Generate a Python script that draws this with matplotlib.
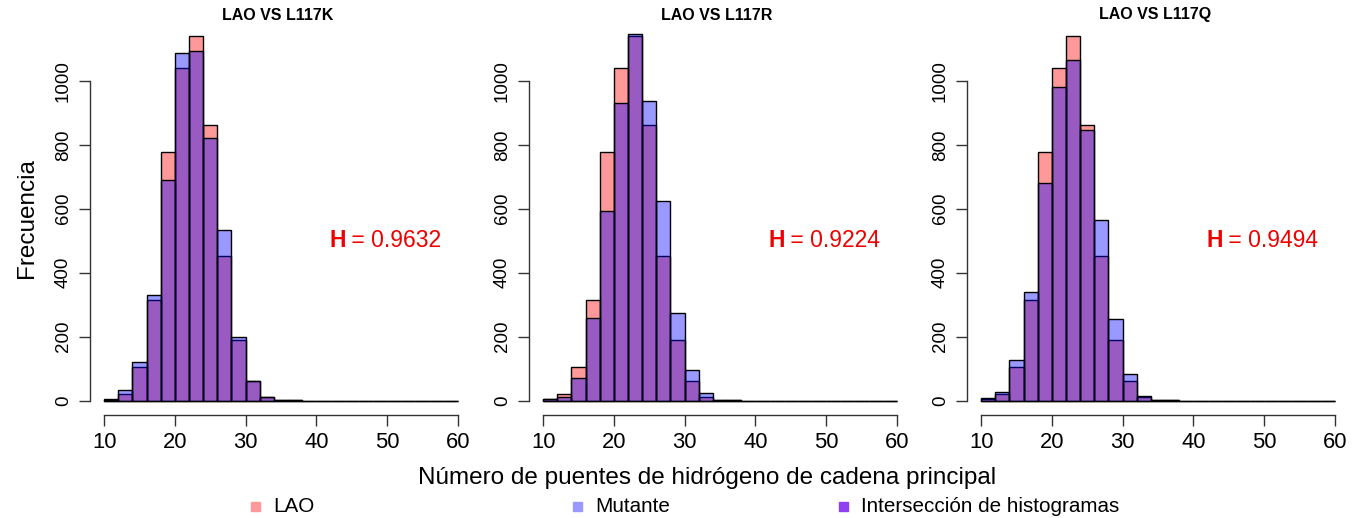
import numpy as np
import matplotlib
matplotlib.use("Agg")
import matplotlib.pyplot as plt

plt.rcParams['font.family'] = ['Liberation Sans', 'DejaVu Sans']

# Bin edges: 10 to 60 step 2 (25 bins)
bin_edges = list(range(10, 62, 2))

# Counts per bin (10-12, 12-14, ..., 58-60)
lao = [4, 20, 105, 316, 778, 1040, 1141, 863, 453, 190, 60, 10, 3, 1,
       0, 0, 0, 0, 0, 0, 0, 0, 0, 0, 0]
mut_l117k = [3, 33, 121, 330, 689, 1087, 1093, 821, 534, 200, 62, 11, 3, 1,
             0, 0, 0, 0, 0, 0, 0, 0, 0, 0, 0]
mut_l117r = [4, 12, 71, 259, 594, 932, 1147, 937, 625, 274, 97, 23, 3, 1,
             0, 0, 0, 0, 0, 0, 0, 0, 0, 0, 0]
mut_l117q = [7, 28, 126, 339, 680, 981, 1066, 845, 564, 254, 82, 13, 3, 1,
             0, 0, 0, 0, 0, 0, 0, 0, 0, 0, 0]

titles = ["LAO VS L117K", "LAO VS L117R", "LAO VS L117Q"]
h_values = ["0.9632", "0.9224", "0.9494"]
mutants = [mut_l117k, mut_l117r, mut_l117q]

x_ticks = [10, 20, 30, 40, 50, 60]
y_ticks = [0, 200, 400, 600, 800, 1000]

legend_labels = ["LAO", "Mutante", "Intersección de histogramas"]

W, H = 1364, 518
fig = plt.figure(figsize=(W / 100, H / 100), dpi=100)

red_fill = (1, 0, 0, 0.4)
blue_fill = (0, 0, 1, 0.4)

lefts_px = [90, 529, 967]
ax_w_px = 382
ax_top_px = 21
ax_bot_px = 415.3

edges = np.array(bin_edges)
widths = np.diff(edges)
for i in range(3):
    ax = fig.add_axes([lefts_px[i] / W, 1 - ax_bot_px / H,
                       ax_w_px / W, (ax_bot_px - ax_top_px) / H])
    ax.bar(edges[:-1], lao, width=widths, align='edge', color=red_fill,
           edgecolor='black', linewidth=1.0)
    ax.bar(edges[:-1], mutants[i], width=widths, align='edge', color=blue_fill,
           edgecolor='black', linewidth=1.0)
    ax.set_xlim(8, 62)
    ax.set_ylim(-46, 1187)
    for s in ['top', 'right']:
        ax.spines[s].set_visible(False)
    ax.spines['left'].set_bounds(0, 1000)
    ax.spines['bottom'].set_bounds(10, 60)
    for s in ['left', 'bottom']:
        ax.spines[s].set_color('#333333')
        ax.spines[s].set_linewidth(1.0)
    ax.set_xticks(x_ticks)
    ax.set_yticks(y_ticks)
    ax.tick_params(axis='x', labelsize=15.8, length=8, width=1.0,
                   color='#333333', pad=4)
    ax.tick_params(axis='y', labelsize=13.5, length=8, width=1.0,
                   color='#333333', pad=5)
    for lab in ax.get_yticklabels():
        lab.set_rotation(90)
        lab.set_va('center')
    fig.text((lefts_px[i] + 188) / W, 1 - 15 / H, titles[i], fontsize=11.5,
             fontweight='bold', ha='center', va='center')
    ax.text(41.9, 500, "H", color='#EE0000', fontsize=16.5, fontweight='bold',
            va='center', ha='left')
    ax.text(44.1, 500, " = " + h_values[i], color='#EE0000', fontsize=16.5,
            va='center', ha='left')
    if i == 0:
        ax.set_ylabel("Frecuencia", fontsize=17.5, labelpad=12)

fig.text(707 / W, 1 - 478 / H, "Número de puentes de hidrógeno de cadena principal",
         fontsize=17.5, ha='center', va='center')

leg_colors = ['#FF9999', '#9999FF', '#9040F0']
leg_x = [255, 577, 843]
for hx, lab, c in zip(leg_x, legend_labels, leg_colors):
    fig.patches.append(plt.Rectangle(((hx - 4.5) / W, 1 - 510.5 / H), 9 / W, 9 / H,
                                     transform=fig.transFigure, color=c))
    fig.text((hx + 18) / W, 1 - 506 / H, lab, fontsize=14.9, ha='left', va='center')

fig.savefig("out.png", dpi=100)
